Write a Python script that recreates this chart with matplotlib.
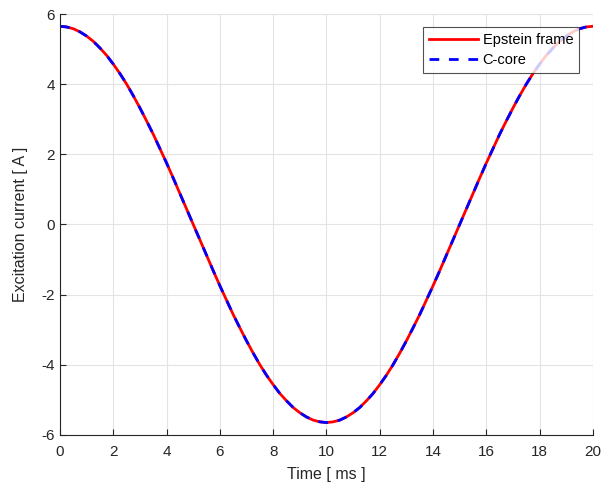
import matplotlib.pyplot as plt
import numpy as np

time_ms = [0.0, 0.25, 0.5, 0.75, 1.0, 1.25, 1.5, 1.75, 2.0, 2.25,
           2.5, 2.75, 3.0, 3.25, 3.5, 3.75, 4.0, 4.25, 4.5, 4.75,
           5.0, 5.25, 5.5, 5.75, 6.0, 6.25, 6.5, 6.75, 7.0, 7.25,
           7.5, 7.75, 8.0, 8.25, 8.5, 8.75, 9.0, 9.25, 9.5, 9.75,
           10.0, 10.25, 10.5, 10.75, 11.0, 11.25, 11.5, 11.75, 12.0, 12.25,
           12.5, 12.75, 13.0, 13.25, 13.5, 13.75, 14.0, 14.25, 14.5, 14.75,
           15.0, 15.25, 15.5, 15.75, 16.0, 16.25, 16.5, 16.75, 17.0, 17.25,
           17.5, 17.75, 18.0, 18.25, 18.5, 18.75, 19.0, 19.25, 19.5, 19.75, 20.0]
epstein = [5.65, 5.63, 5.58, 5.49, 5.37, 5.22, 5.03, 4.82, 4.57, 4.30,
           4.00, 3.67, 3.32, 2.95, 2.57, 2.16, 1.75, 1.32, 0.88, 0.44,
           0.00, -0.44, -0.88, -1.32, -1.75, -2.16, -2.57, -2.95, -3.32, -3.67,
           -4.00, -4.30, -4.57, -4.82, -5.03, -5.22, -5.37, -5.49, -5.58, -5.63,
           -5.65, -5.63, -5.58, -5.49, -5.37, -5.22, -5.03, -4.82, -4.57, -4.30,
           -4.00, -3.67, -3.32, -2.95, -2.57, -2.16, -1.75, -1.32, -0.88, -0.44,
           0.00, 0.44, 0.88, 1.32, 1.75, 2.16, 2.57, 2.95, 3.32, 3.67,
           4.00, 4.30, 4.57, 4.82, 5.03, 5.22, 5.37, 5.49, 5.58, 5.63, 5.65]
ccore = [5.65, 5.63, 5.58, 5.49, 5.37, 5.22, 5.03, 4.82, 4.57, 4.30,
         4.00, 3.67, 3.32, 2.95, 2.57, 2.16, 1.75, 1.32, 0.88, 0.44,
         0.00, -0.44, -0.88, -1.32, -1.75, -2.16, -2.57, -2.95, -3.32, -3.67,
         -4.00, -4.30, -4.57, -4.82, -5.03, -5.22, -5.37, -5.49, -5.58, -5.63,
         -5.65, -5.63, -5.58, -5.49, -5.37, -5.22, -5.03, -4.82, -4.57, -4.30,
         -4.00, -3.67, -3.32, -2.95, -2.57, -2.16, -1.75, -1.32, -0.88, -0.44,
         0.00, 0.44, 0.88, 1.32, 1.75, 2.16, 2.57, 2.95, 3.32, 3.67,
         4.00, 4.30, 4.57, 4.82, 5.03, 5.22, 5.37, 5.49, 5.58, 5.63, 5.65]

plt.rcParams['font.family'] = ['Liberation Sans', 'DejaVu Sans']
plt.rcParams['axes.unicode_minus'] = False
dark = '#262626'

fig = plt.figure(figsize=(6.05, 4.93), dpi=100)
ax = fig.add_axes([0.0992, 0.118, 0.8808, 0.8536])

ax.plot(time_ms, epstein, color='#ff0000', linewidth=2, label='Epstein frame')
ax.plot(time_ms, ccore, color='#0000ff', linewidth=2, linestyle=(0, (3.5, 3.5)), label='C-core')

ax.set_xlim(0, 20)
ax.set_ylim(-6, 6)
ax.set_xticks(np.arange(0, 21, 2))
ax.set_yticks(np.arange(-6, 7, 2))
ax.grid(True, color='#e3e3e3', linewidth=0.8)
ax.set_axisbelow(True)

for s in ['top', 'right']:
    ax.spines[s].set_visible(False)
for s in ['left', 'bottom']:
    ax.spines[s].set_color(dark)
    ax.spines[s].set_linewidth(0.8)
ax.tick_params(direction='in', length=4, width=0.8, colors=dark, labelsize=11)
ax.tick_params(axis='x', pad=7)

ax.set_xlabel('Time [ ms ]', fontsize=11.5, color=dark, labelpad=6)
ax.set_ylabel('Excitation current [ A ]', fontsize=11.5, color=dark, labelpad=10)

leg = ax.legend(loc='upper right', bbox_to_anchor=(0.974, 0.969), borderaxespad=0,
                fancybox=False, edgecolor='#262626', fontsize=10.5,
                handlelength=3.4, handletextpad=0.3, borderpad=0.4, labelspacing=0.4)
leg.get_frame().set_linewidth(0.8)

fig.savefig('out.png', dpi=100)
